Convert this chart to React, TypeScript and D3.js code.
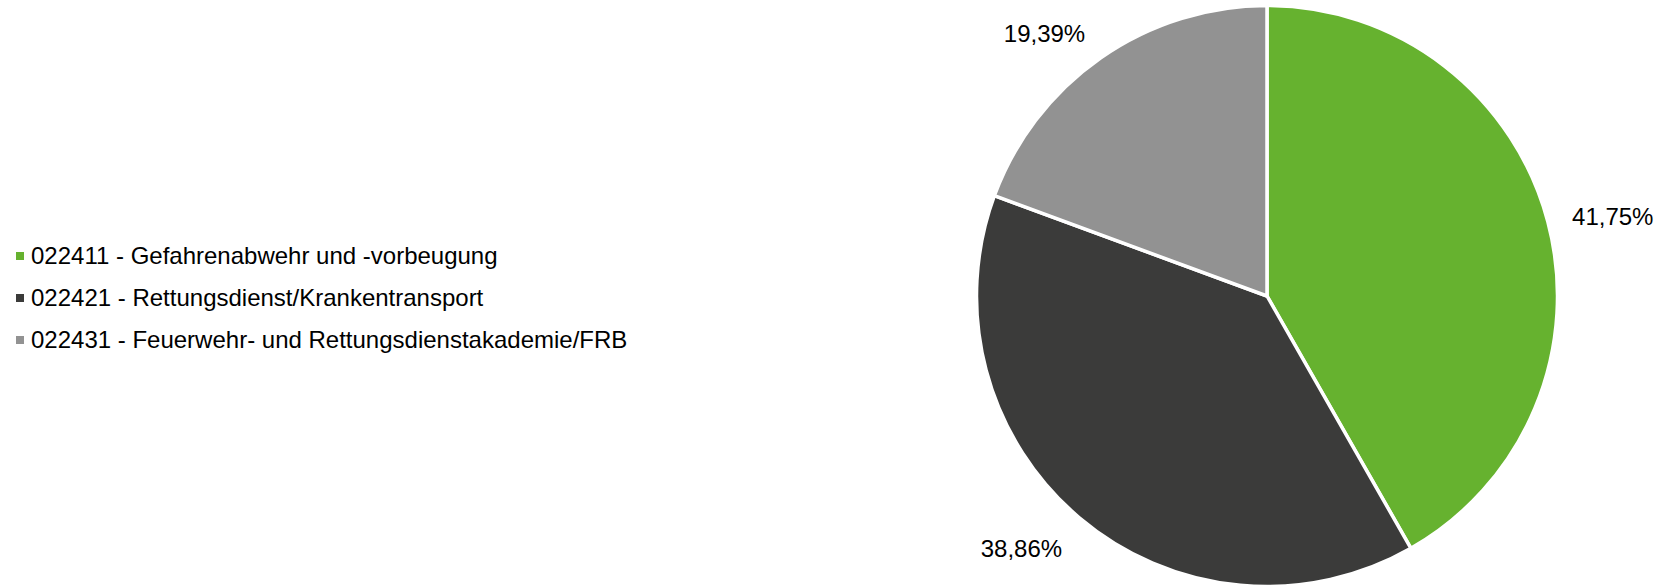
import React from "react";
import * as d3 from "d3";

const categories = [
  "022411 - Gefahrenabwehr und -vorbeugung",
  "022421 - Rettungsdienst/Krankentransport",
  "022431 - Feuerwehr- und Rettungsdienstakademie/FRB",
];
const values = [41.75, 38.86, 19.39];
const colors = ["#66B22F", "#3B3B3A", "#929292"];

const W = 1660;
const H = 586;
const FONT = "'Liberation Sans', Arial, sans-serif";

export default function App() {
  const cx = 1267;
  const cy = 296;
  const r = 290.5;

  const pie = d3
    .pie<number>()
    .sort(null)
    .startAngle(0)
    .endAngle(2 * Math.PI)
    .value((d) => d);
  const arcs = pie(values);
  const arcGen = d3.arc<d3.PieArcDatum<number>>().innerRadius(0).outerRadius(r);

  const fmt = (v: number) => v.toFixed(2).replace(".", ",") + "%";

  const legendY = d3
    .scalePoint<number>()
    .domain(categories.map((_, i) => i))
    .range([264, 348]);

  return (
    <svg
      width={W}
      height={H}
      style={{ position: "fixed", left: 0, top: 0, background: "#fff" }}
      fontFamily={FONT}
    >
      <rect x={0} y={0} width={W} height={H} fill="#fff" />
      <g transform={`translate(${cx},${cy})`}>
        {arcs.map((a, i) => (
          <path
            key={i}
            d={arcGen(a) || ""}
            fill={colors[i]}
            stroke="#fff"
            strokeWidth={3.5}
            strokeLinejoin="round"
          />
        ))}
        {arcs.map((a, i) => {
          const mid = (a.startAngle + a.endAngle) / 2;
          const s = Math.sin(mid);
          const c = Math.cos(mid);
          const R = r + 22;
          const px = R * s;
          const py = -R * c;
          const pad = 3;
          const x = s >= 0 ? px + pad : px - pad;
          const cyText = py - c * 13;
          return (
            <text
              key={"l" + i}
              x={x}
              y={cyText + 12.5}
              fontSize={24}
              fill="#000"
              textAnchor={s >= 0 ? "start" : "end"}
            >
              {fmt(values[i])}
            </text>
          );
        })}
      </g>
      <g>
        {categories.map((cat, i) => {
          const y = legendY(i) as number;
          return (
            <g key={cat}>
              <rect x={16} y={y - 12} width={8} height={8} fill={colors[i]} />
              <text x={31} y={y} fontSize={24} fill="#000">
                {cat}
              </text>
            </g>
          );
        })}
      </g>
    </svg>
  );
}
